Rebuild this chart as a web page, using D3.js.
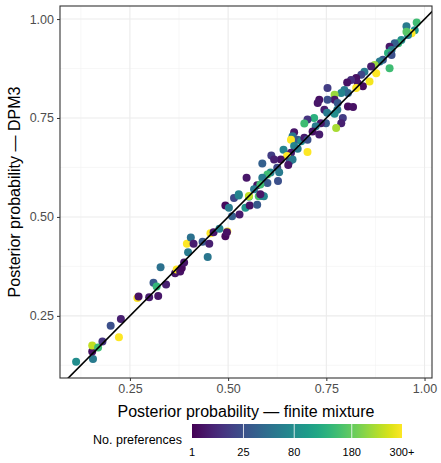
<!DOCTYPE html>
<html>
<head>
<meta charset="utf-8">
<script src="https://cdn.jsdelivr.net/npm/d3@7"></script>
<style>
  body { margin: 0; background: #fff; }
  text { font-family: "Liberation Sans", Arial, sans-serif; }
</style>
</head>
<body>
<svg id="chart"></svg>
<script>
// finite mixture posterior (x), DPM3 posterior (y), number of preferences (n)
const finiteMix = [0.113,0.156,0.154,0.154,0.169,0.180,0.201,0.222,0.227,0.269,0.272,0.299,0.322,0.310,0.318,0.342,0.328,0.365,0.369,0.378,0.382,0.388,0.398,0.395,0.405,0.412,0.435,0.448,0.452,0.455,0.463,0.478,0.493,0.498,0.497,0.493,0.510,0.502,0.529,0.515,0.527,0.544,0.555,0.553,0.574,0.578,0.591,
  0.954,0.980,0.975,0.967,0.958,0.954,0.941,0.933,0.924,0.911,0.916,0.907,0.916,0.911,0.894,0.886,0.873,0.864,0.877,0.860,0.847,0.839,0.826,0.830,0.843,0.826,0.813,0.803,0.796,0.805,0.788,0.771,0.753,0.771,0.779,0.805,0.818,0.778,0.771,0.792,0.788,0.775,0.753,0.745,0.732,0.728,0.752,0.749,0.736,0.719,0.702,0.723,0.715,0.732,0.694,0.668,0.664,0.677,0.660,0.686,0.694,0.702,0.668,0.702,0.677,0.641,0.660,0.650,0.634,0.610,0.617,0.657,0.664,0.653,0.587,0.625,0.630,0.608,0.600,0.627,0.587,0.600,0.547,0.574,0.582,0.566,0.553,0.527,0.587,0.582];
const dpm3 = [0.134,0.141,0.160,0.175,0.170,0.185,0.225,0.196,0.242,0.295,0.299,0.297,0.300,0.334,0.324,0.329,0.373,0.358,0.367,0.362,0.371,0.385,0.411,0.432,0.448,0.432,0.437,0.399,0.432,0.459,0.461,0.470,0.451,0.463,0.461,0.529,0.502,0.523,0.506,0.548,0.554,0.523,0.529,0.551,0.531,0.552,0.552,
  0.982,0.991,0.972,0.964,0.960,0.968,0.947,0.939,0.939,0.930,0.922,0.914,0.909,0.876,0.897,0.893,0.884,0.880,0.863,0.842,0.867,0.859,0.851,0.838,0.830,0.826,0.846,0.840,0.821,0.813,0.813,0.809,0.826,0.796,0.788,0.779,0.778,0.771,0.761,0.750,0.737,0.725,0.796,0.771,0.796,0.788,0.763,0.737,0.737,0.750,0.746,0.729,0.716,0.708,0.736,0.714,0.704,0.695,0.695,0.691,0.700,0.695,0.679,0.664,0.672,0.670,0.662,0.654,0.645,0.655,0.645,0.641,0.645,0.631,0.635,0.624,0.613,0.612,0.607,0.591,0.599,0.586,0.599,0.580,0.582,0.570,0.553,0.557,0.553,0.557];
const nPrefs = [80,60,3,250,150,12,25,300,6,300,3,5,4,30,140,6,50,4,300,3,2,4,60,300,50,5,30,55,6,300,4,70,2,300,3,2,35,60,5,20,70,90,3,150,30,160,70,
  60,150,90,300,70,170,80,140,35,4,60,130,25,150,30,60,220,5,300,290,60,20,3,4,2,300,10,3,60,40,70,220,15,4,30,2,3,60,80,15,6,230,25,5,3,4,60,30,4,130,12,60,3,5,150,4,55,30,300,80,5,25,70,300,60,70,4,300,3,15,6,30,60,4,35,20,60,70,150,25,60,30,4,3,150,60,250,70,70,4];

const xTicks = [0.25, 0.50, 0.75, 1.00];
const yTicks = [0.25, 0.50, 0.75, 1.00];
const minorTicks = [0.125, 0.375, 0.625, 0.875];
const legendTicks = [1, 25, 80, 180, 300];
const legendLabels = ["1", "25", "80", "180", "300+"];

const W = 441, H = 463;
const svg = d3.select("#chart").attr("width", W).attr("height", H);

const x = d3.scaleLinear().domain([0.072, 1.019]).range([60, 432]);
const y = d3.scaleLinear().domain([0.093, 1.033]).range([378, 6]);
const color = d3.scaleSqrt().domain([1, 300]).range([0, 1]).clamp(true);

svg.append("clipPath").attr("id", "clip")
  .append("rect").attr("x", 60).attr("y", 6).attr("width", 372).attr("height", 372);

const grid = svg.append("g");
grid.selectAll(".vmin").data(minorTicks).enter().append("line")
  .attr("x1", d => x(d)).attr("x2", d => x(d)).attr("y1", 6).attr("y2", 378)
  .attr("stroke", "#f2f2f2").attr("stroke-width", 0.6);
grid.selectAll(".hmin").data(minorTicks).enter().append("line")
  .attr("y1", d => y(d)).attr("y2", d => y(d)).attr("x1", 60).attr("x2", 432)
  .attr("stroke", "#f2f2f2").attr("stroke-width", 0.6);
grid.selectAll(".vmaj").data(xTicks).enter().append("line")
  .attr("x1", d => x(d)).attr("x2", d => x(d)).attr("y1", 6).attr("y2", 378)
  .attr("stroke", "#ebebeb").attr("stroke-width", 1.1);
grid.selectAll(".hmaj").data(yTicks).enter().append("line")
  .attr("y1", d => y(d)).attr("y2", d => y(d)).attr("x1", 60).attr("x2", 432)
  .attr("stroke", "#ebebeb").attr("stroke-width", 1.1);

const pts = finiteMix.map((v, i) => ({ x: v, y: dpm3[i], n: nPrefs[i] }));
const plot = svg.append("g").attr("clip-path", "url(#clip)");
plot.selectAll("circle").data(pts).enter().append("circle")
  .attr("cx", d => x(d.x)).attr("cy", d => y(d.y)).attr("r", 4)
  .attr("fill", d => d3.interpolateViridis(color(d.n)));

plot.append("line")
  .attr("x1", x(0)).attr("y1", y(0)).attr("x2", x(1.1)).attr("y2", y(1.1))
  .attr("stroke", "#000").attr("stroke-width", 1.6);

svg.append("rect").attr("x", 60).attr("y", 6).attr("width", 372).attr("height", 372)
  .attr("fill", "none").attr("stroke", "#333").attr("stroke-width", 1.1);

const xAxis = svg.append("g").attr("transform", "translate(0,378)")
  .call(d3.axisBottom(x).tickValues(xTicks).tickFormat(d3.format(".2f")).tickSizeOuter(0).tickSize(3));
const yAxis = svg.append("g").attr("transform", "translate(60,0)")
  .call(d3.axisLeft(y).tickValues(yTicks).tickFormat(d3.format(".2f")).tickSizeOuter(0).tickSize(3));
[xAxis, yAxis].forEach(a => {
  a.select(".domain").remove();
  a.selectAll(".tick line").attr("stroke", "#333");
  a.selectAll(".tick text").attr("fill", "#4d4d4d").style("font-size", "12.5px")
    .style("font-family", "Liberation Sans, Arial, sans-serif");
});

svg.append("text").attr("x", 246).attr("y", 417).attr("text-anchor", "middle")
  .style("font-size", "16px").text("Posterior probability \u2014 finite mixture");
svg.append("text").attr("transform", "translate(20,192) rotate(-90)").attr("text-anchor", "middle")
  .style("font-size", "16px").text("Posterior probability \u2014 DPM3");

// colour bar legend
const lx = d3.scaleSqrt().domain([1, 300]).range([192, 402]);
const grad = svg.append("defs").append("linearGradient").attr("id", "vir");
d3.range(0, 1.001, 0.05).forEach(t => grad.append("stop")
  .attr("offset", t).attr("stop-color", d3.interpolateViridis(t)));
svg.append("rect").attr("x", 192).attr("y", 424).attr("width", 210).attr("height", 14)
  .attr("fill", "url(#vir)");
svg.selectAll(".ltick").data(legendTicks.slice(1, 4)).enter().append("line")
  .attr("x1", d => lx(d)).attr("x2", d => lx(d)).attr("y1", 424).attr("y2", 438)
  .attr("stroke", "#fff").attr("stroke-width", 0.8);
svg.selectAll(".llab").data(legendTicks).enter().append("text")
  .attr("x", d => lx(d)).attr("y", 456).attr("text-anchor", "middle")
  .style("font-size", "11px").text((d, i) => legendLabels[i]);
svg.append("text").attr("x", 182).attr("y", 444).attr("text-anchor", "end")
  .style("font-size", "12.5px").text("No. preferences");
</script>
</body>
</html>
